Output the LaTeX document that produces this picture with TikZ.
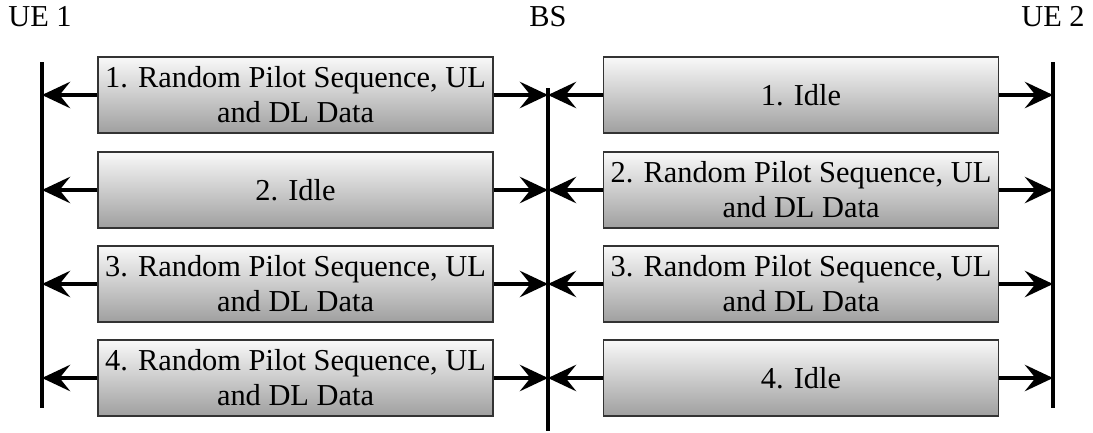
\documentclass[tikz,border=0pt]{standalone}
\usepackage{fontspec}
\setmainfont{Liberation Serif}
\usetikzlibrary{arrows.meta, positioning, calc}
\tikzstyle{arrow} = [line width=2.2pt,-{Stealth[length=16pt,width=15pt,inset=6pt]}]
\tikzset{
slotbox/.style={draw=black!80, line width=0.7pt, top color=gray!5, bottom color=gray!75, minimum width=7.9cm, minimum height=1.52cm, align=center, font=\fontsize{17.3}{20}\selectfont, inner sep=0pt},
entity/.style={font=\fontsize{17.3}{20}\selectfont, inner sep=0pt},
timeline/.style={line width=2.2pt}
}

\begin{document}
\begin{tikzpicture}[x=0.02cm, y=-0.02cm]
\useasboundingbox (0,0) rectangle (1093,433);
%----------------------------------------------------------------------------
% Entities and time lines
\node (ue1) [entity] at (40,17) {UE 1};
\node (bs) [entity] at (548,17) {BS};
\node (ue2) [entity] at (1053,17) {UE 2};
\coordinate (ue1top) at (42,62);
\coordinate (ue1bot) at (42,408);
\coordinate (bstop) at (548,88);
\coordinate (bsbot) at (548,431);
\coordinate (ue2top) at (1053,62);
\coordinate (ue2bot) at (1053,408);

%----------------------------------------------------------------------------
% Slots, UE 1 side
\node (l1) [slotbox] at (295.5,95) {1. Random Pilot Sequence, UL\\and DL Data};
\node (l2) [slotbox] at (295.5,190) {2. Idle};
\node (l3) [slotbox] at (295.5,284) {3. Random Pilot Sequence, UL\\and DL Data};
\node (l4) [slotbox] at (295.5,378) {4. Random Pilot Sequence, UL\\and DL Data};

% Slots, UE 2 side
\node (r1) [slotbox] at (801,95) {1. Idle};
\node (r2) [slotbox] at (801,190) {2. Random Pilot Sequence, UL\\and DL Data};
\node (r3) [slotbox] at (801,284) {3. Random Pilot Sequence, UL\\and DL Data};
\node (r4) [slotbox] at (801,378) {4. Idle};

%----------------------------------------------------------------------------
% Lines
\draw [timeline] (ue1top) -- (ue1bot);
\draw [timeline] (bstop) -- (bsbot);
\draw [timeline] (ue2top) -- (ue2bot);
\foreach \i in {1,...,4}{
  \draw [arrow] (l\i.west) -- (l\i.west -| ue1top);
  \draw [arrow] (l\i.east) -- (l\i.east -| bstop);
  \draw [arrow] (r\i.west) -- (r\i.west -| bstop);
  \draw [arrow] (r\i.east) -- (r\i.east -| ue2top);
}

\end{tikzpicture}
\end{document}
